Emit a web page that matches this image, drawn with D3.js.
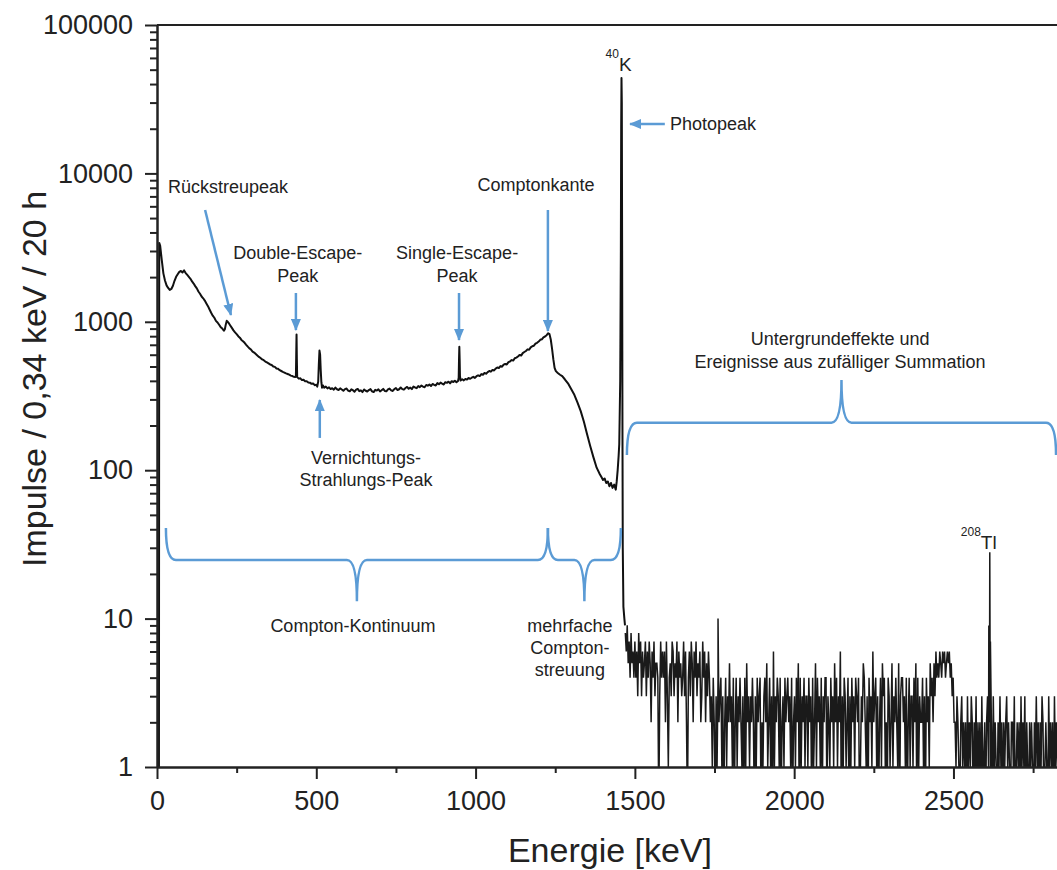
<!DOCTYPE html>
<html>
<head>
<meta charset="utf-8">
<script src="https://cdn.jsdelivr.net/npm/d3@7"></script>
<style>
  body { margin: 0; background: #fff; }
  text { font-family: 'Liberation Sans', Arial, sans-serif; fill: #222; }
</style>
</head>
<body>
<div id="chart"></div>
<script>
// spectrum below the photopeak: [energy keV, counts]
const continuum = [
  [0, 0], [6, 0], [7, 3400], [10, 3250], [15, 2600], [20, 2120], [25, 1900], [30, 1760],
  [35, 1690], [40, 1640], [45, 1665], [50, 1750], [55, 1890], [60, 2010], [65, 2090],
  [70, 2170], [75, 2200], [80, 2150], [85, 2220], [90, 2130], [95, 2070], [100, 2010],
  [105, 1950], [110, 1870], [115, 1810], [120, 1740], [125, 1680], [130, 1600], [135, 1545],
  [140, 1480], [145, 1440], [150, 1390], [155, 1330], [160, 1275], [165, 1210], [170, 1150],
  [175, 1100], [180, 1065], [185, 1015], [190, 990], [195, 955], [200, 920], [205, 900],
  [210, 870], [213, 890], [216, 960], [219, 1015], [222, 1000], [226, 975], [230, 945],
  [235, 910], [240, 875], [245, 848], [250, 826], [255, 800], [260, 782], [265, 755],
  [270, 740], [275, 722], [280, 700], [285, 680], [290, 662], [295, 650], [300, 630],
  [305, 620], [310, 606], [315, 592], [320, 580], [325, 570], [330, 558], [335, 551],
  [340, 540], [345, 533], [350, 525], [355, 516], [360, 512], [365, 500], [370, 497],
  [375, 485], [380, 482], [385, 472], [390, 466], [395, 460], [400, 455], [405, 449],
  [410, 445], [415, 440], [420, 434], [425, 431], [430, 426], [434, 424], [436, 428],
  [437, 600], [438, 820], [439, 560], [440, 424], [445, 414], [450, 416], [455, 405],
  [460, 407], [465, 397], [470, 398], [475, 390], [480, 389], [485, 382], [490, 384],
  [495, 374], [500, 376], [503, 366], [506, 395], [508, 520], [510, 640], [512, 600],
  [514, 470], [516, 390], [518, 360], [521, 372], [525, 360], [530, 366], [535, 356],
  [540, 362], [545, 352], [550, 357], [555, 349], [560, 360], [565, 351], [570, 347],
  [575, 356], [580, 350], [585, 343], [590, 352], [595, 355], [600, 344], [605, 340],
  [610, 351], [615, 346], [620, 338], [625, 349], [630, 353], [635, 341], [640, 345],
  [645, 336], [650, 350], [655, 343], [660, 339], [665, 347], [670, 352], [675, 340],
  [680, 336], [685, 348], [690, 344], [695, 351], [700, 339], [705, 346], [710, 353],
  [715, 342], [720, 340], [725, 350], [730, 355], [735, 345], [740, 342], [745, 352],
  [750, 358], [755, 347], [760, 351], [765, 361], [770, 352], [775, 349], [780, 358],
  [785, 364], [790, 354], [795, 360], [800, 352], [805, 366], [810, 361], [815, 357],
  [820, 369], [825, 363], [830, 372], [835, 366], [840, 362], [845, 375], [850, 371],
  [855, 378], [860, 369], [865, 381], [870, 376], [875, 372], [880, 386], [885, 380],
  [890, 389], [895, 383], [900, 378], [905, 392], [910, 388], [915, 395], [920, 385],
  [925, 398], [930, 393], [935, 401], [940, 392], [945, 399], [947, 420], [948, 560],
  [949, 680], [950, 560], [951, 430], [953, 402], [958, 410], [963, 403], [968, 412],
  [973, 408], [978, 418], [983, 413], [988, 420], [993, 426], [998, 419], [1003, 430],
  [1008, 436], [1013, 431], [1018, 444], [1023, 440], [1028, 452], [1033, 447],
  [1038, 458], [1043, 466], [1048, 461], [1053, 474], [1058, 470], [1063, 484],
  [1068, 492], [1073, 488], [1078, 503], [1083, 498], [1088, 514], [1093, 520],
  [1098, 516], [1103, 535], [1108, 540], [1113, 552], [1118, 548], [1123, 568],
  [1128, 574], [1133, 584], [1138, 598], [1143, 592], [1148, 615], [1153, 626],
  [1158, 636], [1163, 652], [1168, 648], [1173, 672], [1178, 684], [1183, 690],
  [1188, 712], [1193, 722], [1198, 736], [1203, 756], [1208, 762], [1213, 786],
  [1218, 796], [1223, 812], [1228, 838], [1232, 826], [1236, 760], [1240, 660],
  [1244, 560], [1248, 490], [1252, 465], [1258, 452], [1265, 440], [1272, 430],
  [1280, 410], [1290, 385], [1300, 352], [1310, 322], [1320, 285], [1330, 250],
  [1340, 212], [1350, 175], [1360, 145], [1370, 122], [1380, 104], [1390, 94], [1395, 90],
  [1400, 86], [1405, 88], [1410, 82], [1415, 84], [1420, 78], [1425, 82], [1430, 76],
  [1435, 80], [1440, 74], [1443, 84], [1446, 100], [1449, 125], [1451, 150], [1454, 400],
  [1456, 3000], [1457, 20000], [1458, 44000], [1459, 30000], [1460, 3000], [1461, 200],
  [1462, 30], [1464, 12], [1467, 10], [1469, 9]
];

// background above the photopeak: one count per 3 keV channel group
const tailStep = 3;
const tailStarts = [1470, 1740, 2430, 2505];
const tailCounts = [
  '8695748564 7463857364 5736475264 7355403746 4627314537 6354726453 4736204637 5264735462 3746253642',
  '3142031423 4130241325 2314024132 4213041523 1324203142 3402134251 2413061324 3140231423 ' +
  '4231402314 2504132413 3142304125 1423140324 4032142315 2413260314 3124031423 1432401325 ' +
  '4213042316 2341302415 3412043125 1324215034 4231402413 3142504132 2413042315',
  '3425364546 5465645656 45342',
  '2132102312 1203121320 2130212031 1202312120 3121021312 0212312102 2130121203 ' +
  '1213021021 2102131202 1320121031 2120312102'
];
// single lines standing out of the background
const lines = [[1761, 10], [2611, 9], [2614, 28], [2616, 7]];

const xTicks = [0, 500, 1000, 1500, 2000, 2500];
const xMinor = [250, 750, 1250, 1750, 2250, 2750];
const yTicks = [1, 10, 100, 1000, 10000, 100000];

const W = 1057;
const H = 870;
const margin = { top: 25, right: 0, bottom: 103, left: 157 };

const svg = d3
  .select('#chart')
  .append('svg')
  .attr('width', W)
  .attr('height', H);

const x = d3.scaleLinear().domain([0, 2825]).range([margin.left, W - margin.right]);
const y = d3.scaleLog().domain([1, 100000]).range([H - margin.bottom, margin.top]);

const blue = '#5b9bd5';

svg
  .append('defs')
  .append('clipPath')
  .attr('id', 'plot')
  .append('rect')
  .attr('x', margin.left)
  .attr('y', margin.top)
  .attr('width', W - margin.left - margin.right)
  .attr('height', H - margin.top - margin.bottom);

svg
  .select('defs')
  .append('marker')
  .attr('id', 'head')
  .attr('viewBox', '0 0 12 10')
  .attr('refX', 11)
  .attr('refY', 5)
  .attr('markerWidth', 12)
  .attr('markerHeight', 10)
  .attr('markerUnits', 'userSpaceOnUse')
  .attr('orient', 'auto')
  .append('path')
  .attr('d', 'M0,0L12,5L0,10Z')
  .attr('fill', blue);

// data
const tail = [];
tailCounts.forEach((s, k) => {
  s.replace(/\s/g, '')
    .split('')
    .forEach((c, i) => tail.push([tailStarts[k] + i * tailStep, +c]));
});
lines.forEach((d) => tail.push(d));
tail.sort((a, b) => a[0] - b[0]);

const line = d3
  .line()
  .x((d) => x(d[0]))
  .y((d) => y(Math.max(0.5, d[1])));

const plot = svg.append('g').attr('clip-path', 'url(#plot)');

plot
  .append('path')
  .datum(tail)
  .attr('d', line)
  .attr('fill', 'none')
  .attr('stroke', '#1a1a1a')
  .attr('stroke-width', 1.5);

plot
  .append('path')
  .datum(continuum)
  .attr('d', line)
  .attr('fill', 'none')
  .attr('stroke', '#111')
  .attr('stroke-width', 2)
  .attr('stroke-linejoin', 'round');

// axes
svg
  .append('g')
  .attr('transform', `translate(${margin.left},0)`)
  .call(
    d3.axisLeft(y).tickValues(yTicks).tickFormat(d3.format('d')).tickSize(12).tickSizeOuter(0).tickPadding(12)
  );

const yMinor = [];
yTicks.slice(0, -1).forEach((t) => {
  for (let k = 2; k < 10; k++) yMinor.push(t * k);
});
svg
  .append('g')
  .attr('transform', `translate(${margin.left},0)`)
  .call(d3.axisLeft(y).tickValues(yMinor).tickFormat('').tickSize(7).tickSizeOuter(0));

svg
  .append('g')
  .attr('transform', `translate(0,${H - margin.bottom})`)
  .call(
    d3.axisBottom(x).tickValues(xTicks).tickFormat(d3.format('d')).tickSize(12).tickSizeOuter(0).tickPadding(12)
  );

svg
  .append('g')
  .attr('transform', `translate(0,${H - margin.bottom})`)
  .call(d3.axisBottom(x).tickValues(xMinor).tickFormat('').tickSize(6).tickSizeOuter(0));

svg.selectAll('.domain, .tick line').attr('stroke', '#222').attr('stroke-width', 2);
svg.selectAll('.tick text').style('font-size', '27px').attr('fill', '#222');

svg
  .append('line')
  .attr('x1', margin.left)
  .attr('x2', W)
  .attr('y1', margin.top)
  .attr('y2', margin.top)
  .attr('stroke', '#222')
  .attr('stroke-width', 2);

svg
  .append('text')
  .attr('transform', 'translate(46,379) rotate(-90)')
  .attr('text-anchor', 'middle')
  .style('font-size', '34px')
  .text('Impulse / 0,34 keV / 20 h');

svg
  .append('text')
  .attr('x', 610)
  .attr('y', 862)
  .attr('text-anchor', 'middle')
  .style('font-size', '34px')
  .text('Energie [keV]');

// annotations (positions in keV / counts)
const labels = [
  { e: 223, c: 7380, t: 'Rückstreupeak' },
  { e: 442, c: 2650, t: 'Double-Escape-' },
  { e: 442, c: 1854, t: 'Peak' },
  { e: 942, c: 2650, t: 'Single-Escape-' },
  { e: 942, c: 1854, t: 'Peak' },
  { e: 1190, c: 7610, t: 'Comptonkante' },
  { e: 656, c: 110, t: 'Vernichtungs-' },
  { e: 656, c: 78, t: 'Strahlungs-Peak' },
  { e: 615, c: 8.1, t: 'Compton-Kontinuum' },
  { e: 1296, c: 8.1, t: 'mehrfache' },
  { e: 1296, c: 5.8, t: 'Compton-' },
  { e: 1296, c: 4.1, t: 'streuung' },
  { e: 2144, c: 698, t: 'Untergrundeffekte und' },
  { e: 2144, c: 488, t: 'Ereignisse aus zufälliger Summation' },
  { e: 1610, c: 19600, t: 'Photopeak', a: 'start' }
];

svg
  .append('g')
  .selectAll('text')
  .data(labels)
  .enter()
  .append('text')
  .attr('x', (d) => x(d.e))
  .attr('y', (d) => y(d.c))
  .attr('text-anchor', (d) => d.a || 'middle')
  .style('font-size', '18px')
  .text((d) => d.t);

// isotope labels with mass number as superscript
const isotopes = [
  { e: 1450, c: 49000, m: '40', t: 'K' },
  { e: 2586, c: 29.4, m: '208', t: 'Tl' }
];
isotopes.forEach((d) => {
  svg
    .append('text')
    .attr('x', x(d.e))
    .attr('y', y(d.c))
    .attr('dy', '-13')
    .attr('text-anchor', 'end')
    .style('font-size', '12px')
    .text(d.m);
  svg
    .append('text')
    .attr('x', x(d.e))
    .attr('y', y(d.c))
    .style('font-size', '19px')
    .text(d.t);
});

const arrows = [
  { e0: 151, c0: 5665, e1: 232, c1: 1112 },
  { e0: 436, c0: 1563, e1: 436, c1: 880 },
  { e0: 948, c0: 1563, e1: 948, c1: 754 },
  { e0: 1227, c0: 5665, e1: 1227, c1: 867 },
  { e0: 511, c0: 165, e1: 511, c1: 297 },
  { e0: 1594, c0: 21500, e1: 1485, c1: 21500 }
];

svg
  .append('g')
  .selectAll('line')
  .data(arrows)
  .enter()
  .append('line')
  .attr('x1', (d) => x(d.e0))
  .attr('y1', (d) => y(d.c0))
  .attr('x2', (d) => x(d.e1))
  .attr('y2', (d) => y(d.c1))
  .attr('stroke', blue)
  .attr('stroke-width', 2.5)
  .attr('marker-end', 'url(#head)');

// curly brackets: [from keV, to keV, end counts, bar counts, tip counts]
const braces = [
  [28, 1227, 40.8, 24.8, 13.1],
  [1227, 1456, 40.8, 24.8, 13.1],
  [1475, 2822, 126.5, 209, 405]
];

function brace(d) {
  const x0 = x(d[0]);
  const x1 = x(d[1]);
  const xm = (x0 + x1) / 2;
  const yE = y(d[2]);
  const yM = y(d[3]);
  const yT = y(d[4]);
  const r = 10;
  return `M${x0},${yE} Q${x0},${yM} ${x0 + r},${yM} L${xm - r},${yM} Q${xm},${yM} ${xm},${yT} ` +
    `Q${xm},${yM} ${xm + r},${yM} L${x1 - r},${yM} Q${x1},${yM} ${x1},${yE}`;
}

svg
  .append('g')
  .selectAll('path')
  .data(braces)
  .enter()
  .append('path')
  .attr('d', brace)
  .attr('fill', 'none')
  .attr('stroke', blue)
  .attr('stroke-width', 2.5);
</script>
</body>
</html>
